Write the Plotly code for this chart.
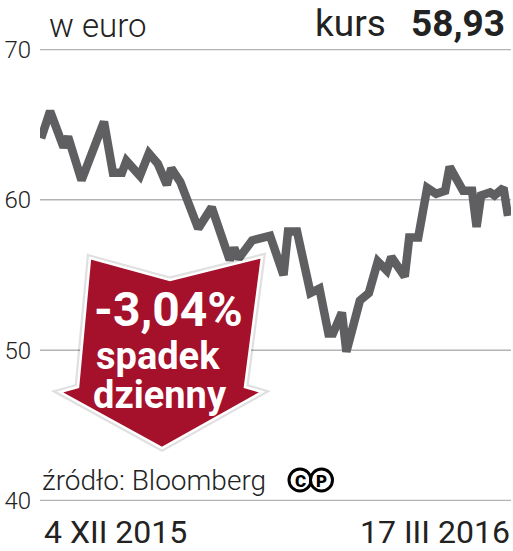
import plotly.graph_objects as go

# kurs akcji w euro, 4 XII 2015 - 17 III 2016
dates = [
    "2015-12-04", "2015-12-06", "2015-12-09", "2015-12-10", "2015-12-13",
    "2015-12-18", "2015-12-20", "2015-12-22", "2015-12-23", "2015-12-26",
    "2015-12-28", "2015-12-30", "2016-01-01", "2016-01-02", "2016-01-04",
    "2016-01-08", "2016-01-11", "2016-01-15", "2016-01-16", "2016-01-17",
    "2016-01-20", "2016-01-24", "2016-01-27", "2016-01-28", "2016-01-30",
    "2016-02-02", "2016-02-04", "2016-02-06", "2016-02-07", "2016-02-09",
    "2016-02-10", "2016-02-13", "2016-02-15", "2016-02-17", "2016-02-19",
    "2016-02-20", "2016-02-23", "2016-02-24", "2016-02-26", "2016-02-28",
    "2016-03-01", "2016-03-03", "2016-03-04", "2016-03-07", "2016-03-09",
    "2016-03-10", "2016-03-11", "2016-03-13", "2016-03-14", "2016-03-16",
    "2016-03-17",
]
prices = [
    64.1, 65.9, 63.5, 64.2, 61.3,
    65.2, 61.8, 61.8, 62.6, 61.6,
    63.1, 62.4, 61.0, 62.1, 61.2,
    58.1, 59.5, 56.0, 56.8, 56.1,
    57.3, 57.6, 55.0, 57.9, 57.9,
    53.8, 54.1, 51.1, 51.1, 52.5,
    49.9, 53.3, 53.8, 55.9, 55.3,
    56.2, 54.9, 57.5, 57.5, 60.8,
    60.4, 60.6, 62.2, 60.6, 60.6,
    58.2, 60.3, 60.5, 60.3, 60.8,
    58.93,
]
y_ticks = [40, 50, 60, 70]
start_label = "4 XII 2015"
end_label = "17 III 2016"
last_price = "58,93"
change_text = "-3,04%"

W, H = 513, 551
ML, MR, MT, MB = 40, 2, 49, 50
PW, PH = W - ML - MR, H - MT - MB


def px(x):
    return (x - ML) / PW


def py(y):
    return (H - MB - y) / PH


def arrow_path(pts):
    return "M " + " L ".join(f"{px(x):.4f},{py(y):.4f}" for x, y in pts) + " Z"


arrow = [(90, 258), (170, 280), (262, 257), (245, 387), (262, 392),
         (162, 448), (60, 392), (78, 387)]

fig = go.Figure()
fig.add_trace(go.Scatter(x=dates, y=prices, mode="lines",
                         line=dict(color="#5f5f61", width=8.5),
                         hoverinfo="skip"))

light = dict(family="Roboto", color="#222222", weight=300)

fig.update_layout(
    width=W, height=H,
    margin=dict(l=ML, r=MR, t=MT, b=MB),
    paper_bgcolor="white", plot_bgcolor="white",
    showlegend=False,
    xaxis=dict(range=["2015-12-03 18:00", "2016-03-17 16:00"],
               showgrid=False, showticklabels=False, zeroline=False,
               showline=False, ticks=""),
    yaxis=dict(range=[39.96, 70.04], tickvals=y_ticks,
               showgrid=False, zeroline=False, showline=False, ticks="",
               ticklabelstandoff=8,
               tickfont=dict(size=24, **light)),
)

# linie siatki
for v in y_ticks:
    fig.add_shape(type="line", xref="paper", yref="y", x0=0, x1=1, y0=v, y1=v,
                  line=dict(color="#b3b3b3", width=1.5), layer="below")

# strzałka
fig.add_shape(type="path", path=arrow_path(arrow), xref="paper", yref="paper",
              fillcolor="rgba(0,0,0,0)", line=dict(color="rgba(0,0,0,0.12)", width=7))
fig.add_shape(type="path", path=arrow_path(arrow), xref="paper", yref="paper",
              fillcolor="#a5112b", line=dict(color="white", width=2.5))

# symbole C i P
for cx, letter in [(300, "C"), (321.5, "P")]:
    r = 11
    fig.add_shape(type="circle", xref="paper", yref="paper",
                  x0=px(cx - r), x1=px(cx + r), y0=py(480 + r), y1=py(480 - r),
                  line=dict(color="black", width=3), fillcolor="white")
    fig.add_annotation(x=px(cx), y=py(481), xref="paper", yref="paper",
                       text=letter, showarrow=False,
                       font=dict(family="Roboto", size=17, color="black", weight=900),
                       xanchor="center", yanchor="middle")

ann = [
    ("w euro", 48, 26, "left", dict(size=33, **light)),
    ("kurs", 387, 23, "right", dict(family="Roboto", size=37, color="#222222")),
    (f"<b>{last_price}</b>", 506, 23, "right", dict(family="Roboto", size=37, color="#222222")),
    ("źródło: Bloomberg", 41, 480, "left", dict(size=28, **light)),
    (start_label, 43, 532, "left", dict(family="Roboto", size=32, color="#222222")),
    (end_label, 511, 532, "right", dict(family="Roboto", size=32, color="#222222")),
    (f"<b>{change_text}</b>", 168, 309, "center", dict(family="Roboto", size=48, color="white")),
    ("<b>spadek</b>", 158, 356, "center", dict(family="Roboto", size=38, color="white")),
    ("<b>dzienny</b>", 160, 395, "center", dict(family="Roboto", size=38, color="white")),
]
for text, x, y, anchor, font in ann:
    fig.add_annotation(x=px(x), y=py(y), xref="paper", yref="paper", text=text,
                       showarrow=False, xanchor=anchor, yanchor="middle", font=font,
                       borderpad=0)

fig.write_html("out.html", config={"displayModeBar": False},
               post_script="document.body.style.margin = '0';")
